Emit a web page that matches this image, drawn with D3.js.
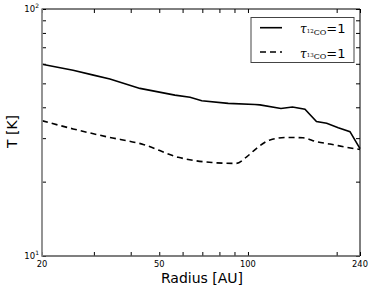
<!DOCTYPE html>
<html><head><meta charset="utf-8">
<script src="https://cdn.jsdelivr.net/npm/d3@7"></script>
<style>body{margin:0;background:#fff}svg{display:block}</style>
</head><body>
<script>
const radiusSolid = [20, 25.5, 29.9, 34, 43, 56.5, 63.6, 69.7, 85.7, 105.6, 109.8, 129.4, 141.6, 156.1, 170.8, 185, 202.5, 221.9, 240];
const tempSolid   = [59.7, 56.5, 54.0, 52.1, 47.7, 44.8, 43.9, 42.5, 41.5, 41.05, 40.9, 39.55, 40.1, 39.3, 35.0, 34.45, 33.06, 31.86, 27.2];
const radiusDashed = [20, 25.5, 33.1, 44.1, 58.0, 75.5, 91, 99, 107, 118.8, 135.3, 153.7, 171, 189.8, 216.2, 240];
const tempDashed   = [35.3, 32.7, 30.4, 28.3, 25.1, 23.9, 23.7, 25.2, 27.3, 29.5, 30.2, 30.1, 29.0, 28.4, 27.55, 27.0];
const xTicks = [20, 30, 40, 50, 60, 70, 80, 90, 100, 200, 240];
const xTickLabels = [20, 50, 100, 240];
const yTicks = [10, 20, 30, 40, 50, 60, 70, 80, 90, 100];
const yTickLabels = [{v: 10, exp: "1"}, {v: 100, exp: "2"}];
const seriesNames = [{sup: "12", dash: null}, {sup: "13", dash: "6,4"}];

const W = 374, H = 291;
const L = 42, R = 360, T = 9, B = 256;
const svg = d3.select("body").append("svg").attr("width", W).attr("height", H);
const x = d3.scaleLog().domain([20, 240]).range([L, R]);
const y = d3.scaleLog().domain([10, 100]).range([B, T]);

// lines
const lineGen = d3.line().x(d => x(d[0])).y(d => y(d[1]));
svg.append("path").datum(radiusSolid.map((r, i) => [r, tempSolid[i]]))
  .attr("d", lineGen).attr("fill", "none").attr("stroke", "#000").attr("stroke-width", 1.6);
svg.append("path").datum(radiusDashed.map((r, i) => [r, tempDashed[i]]))
  .attr("d", lineGen.curve(d3.curveMonotoneX)).attr("fill", "none").attr("stroke", "#000")
  .attr("stroke-width", 1.6).attr("stroke-dasharray", "6,4");

// axes (ticks inward)
function styleAxis(g) {
  g.select(".domain").remove();
  g.selectAll(".tick line").attr("stroke", "#000").attr("stroke-width", 1);
  g.selectAll(".tick text").remove();
}
svg.append("g").attr("transform", `translate(0,${B})`)
  .call(d3.axisBottom(x).tickValues(xTicks).tickSize(-4)).call(styleAxis);
svg.append("g").attr("transform", `translate(0,${T})`)
  .call(d3.axisTop(x).tickValues(xTicks).tickSize(-4)).call(styleAxis);
svg.append("g").attr("transform", `translate(${L},0)`)
  .call(d3.axisLeft(y).tickValues(yTicks).tickSize(-4)).call(styleAxis);
svg.append("g").attr("transform", `translate(${R},0)`)
  .call(d3.axisRight(y).tickValues(yTicks).tickSize(-4)).call(styleAxis);

// spines
svg.append("line").attr("x1", L).attr("x2", R).attr("y1", T).attr("y2", T).attr("stroke", "#000").attr("stroke-width", 1);
svg.append("line").attr("x1", R).attr("x2", R).attr("y1", T).attr("y2", B).attr("stroke", "#000").attr("stroke-width", 1);
svg.append("line").attr("x1", L).attr("x2", R).attr("y1", B).attr("y2", B).attr("stroke", "#555").attr("stroke-width", 1.5);
svg.append("line").attr("x1", L).attr("x2", L).attr("y1", T - 0.5).attr("y2", B + 0.7).attr("stroke", "#888").attr("stroke-width", 1.8);

// tick labels
const font = "DejaVu Sans, sans-serif";
svg.append("g").selectAll("text").data(xTickLabels).join("text")
  .attr("x", d => x(d)).attr("y", 267).attr("text-anchor", "middle")
  .attr("font-family", font).attr("font-size", 8.3).text(d => d);
const yl = svg.append("g").selectAll("text").data(yTickLabels).join("text")
  .attr("x", L - 3).attr("y", d => y(d.v) + 3).attr("text-anchor", "end")
  .attr("font-family", font).attr("font-size", 8.5);
yl.append("tspan").text("10");
yl.append("tspan").attr("dy", -4).attr("font-size", 6).text(d => d.exp);

// axis titles
svg.append("text").attr("x", (L + R) / 2 + 1).attr("y", 283).attr("text-anchor", "middle")
  .attr("font-family", font).attr("font-size", 14).text("Radius [AU]");
svg.append("text").attr("transform", `translate(17,131.5) rotate(-90)`)
  .attr("text-anchor", "middle").attr("font-family", font).attr("font-size", 14).text("T [K]");

// legend
svg.append("rect").attr("x", 251).attr("y", 17.5).attr("width", 103).attr("height", 45)
  .attr("fill", "#fff").attr("stroke", "#444").attr("stroke-width", 1);
const lg = svg.append("g").selectAll("g").data(seriesNames).join("g")
  .attr("transform", (d, i) => `translate(0,${27.7 + i * 24.3})`);
lg.append("line").attr("x1", 260).attr("x2", 282).attr("y1", 0).attr("y2", 0)
  .attr("stroke", "#000").attr("stroke-width", 1.6).attr("stroke-dasharray", d => d.dash);
const lt = lg.append("text").attr("x", 300).attr("y", 5.5).attr("font-family", "DejaVu Serif, serif");
lt.append("tspan").attr("font-style", "italic").attr("font-size", 12).text("τ");
lt.append("tspan").attr("font-size", 5.5).attr("dy", -0.5).text(d => d.sup);
lt.append("tspan").attr("font-size", 8).attr("dy", 2.3).text("CO");
lt.append("tspan").attr("font-family", font).attr("font-size", 13).attr("dy", -1.8).text("=1");
</script>
</body></html>
